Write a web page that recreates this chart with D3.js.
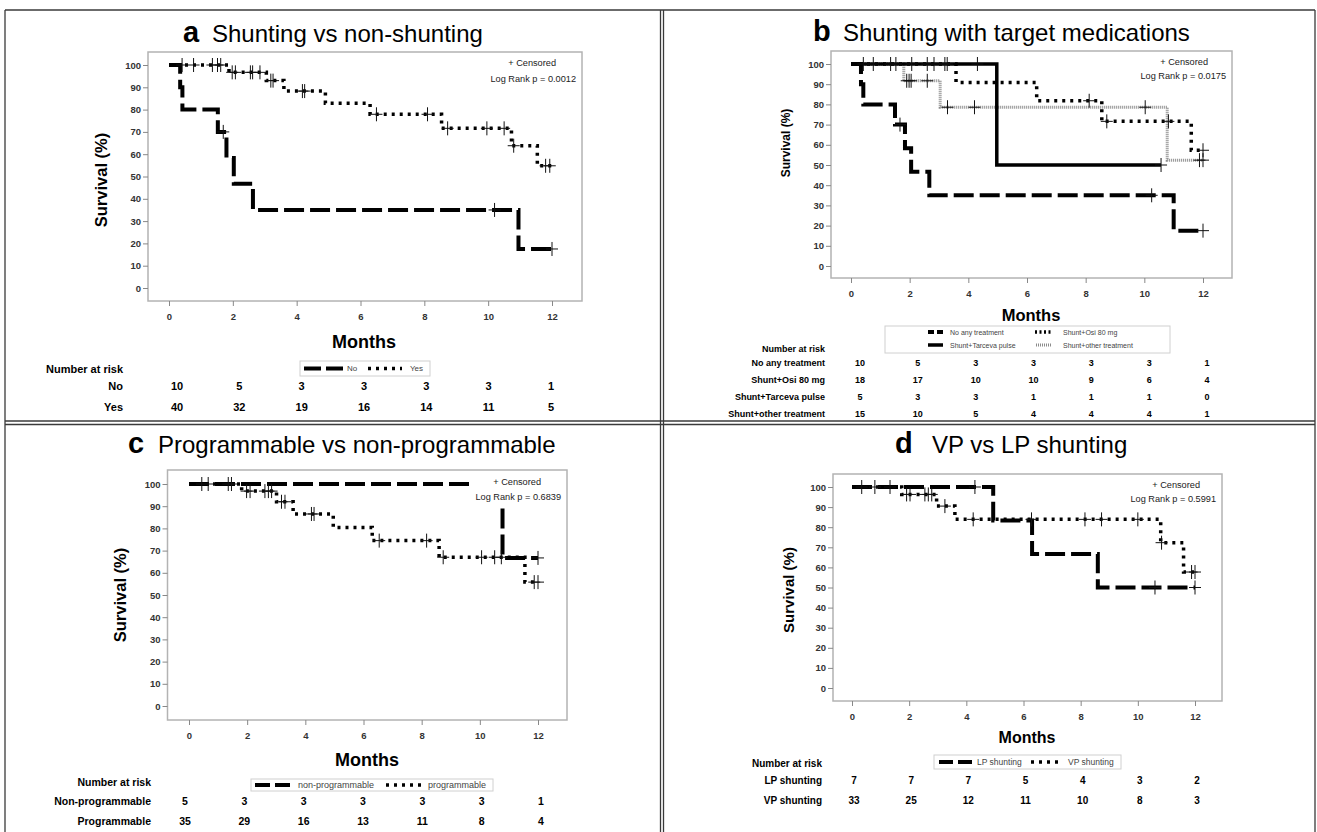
<!DOCTYPE html>
<html>
<head>
<meta charset="utf-8">
<script src="https://cdn.jsdelivr.net/npm/d3@7"></script>
<style>
  body { margin: 0; background: #fff; }
  text { font-family: 'Liberation Sans', Arial, sans-serif; }
</style>
</head>
<body>
<svg id="fig" width="1317" height="832"></svg>
<script>
// shared ticks
var monthTicks = [0, 2, 4, 6, 8, 10, 12];
var survivalTicks = [0, 10, 20, 30, 40, 50, 60, 70, 80, 90, 100];

// a: shunting vs non-shunting  (steps = [month, survival after step])
var aNoSteps = [[0,100],[0.35,90],[0.42,80],[1.53,70],[1.8,58.3],[2.03,46.7],[2.63,35],[10.95,17.5],[12,17.5]];
var aNoCensor = [1.7, 10.2, 12];
var aYesSteps = [[0,100],[1.88,96.7],[3.05,93.0],[3.6,88.3],[4.9,82.8],[6.3,77.9],[8.54,71.6],[10.73,63.8],[11.54,54.8],[12,54.8]];
var aYesCensor = [0.41,0.77,1.36,1.52,1.62,1.98,2.08,2.55,2.62,2.85,3.19,3.26,4.18,4.25,6.5,8.1,8.73,9.96,10.5,10.8,11.8,11.93];
var aRiskNo = [10, 5, 3, 3, 3, 3, 1];
var aRiskYes = [40, 32, 19, 16, 14, 11, 5];

// b: shunting with target medications
var bNoneSteps = [[0,100],[0.34,90],[0.42,80],[1.5,70],[1.84,58.3],[2.05,46.7],[2.67,35],[11.0,17.5],[12,17.5]];
var bNoneCensor = [1.67, 10.25, 12];
var bOsiSteps = [[0,100],[3.58,90.9],[6.33,81.8],[8.55,71.6],[11.6,57.3],[12,57.3]];
var bOsiCensor = [0.42,1.35,1.53,2.07,2.6,3.2,3.28,8.12,8.72,10.82,12];
var bTarcevaSteps = [[0,100],[4.97,50],[10.57,50]];
var bTarcevaCensor = [0.76, 2.83, 4.31, 10.57];
var bOtherSteps = [[0,100],[1.8,91.7],[3.04,78.6],[10.78,52.4],[12,52.4]];
var bOtherCensor = [1.9,1.98,2.05,2.6,3.29,4.21,10.03,11.88,12];
var bRiskNone = [10, 5, 3, 3, 3, 3, 1];
var bRiskOsi = [18, 17, 10, 10, 9, 6, 4];
var bRiskTarceva = [5, 3, 3, 1, 1, 1, 0];
var bRiskOther = [15, 10, 5, 4, 4, 4, 1];

// c: programmable vs non-programmable
var cNonSteps = [[0,100],[10.78,66.7],[12,66.7]];
var cNonCensor = [0.44, 1.35, 12];
var cProgSteps = [[0,100],[1.81,96.8],[3.01,92.0],[3.58,86.5],[4.96,80.4],[6.3,74.5],[8.6,67.0],[11.55,55.8],[12,55.8]];
var cProgCensor = [0.66,1.46,1.98,2.1,2.61,2.73,2.84,3.18,3.3,4.21,4.3,6.54,8.17,8.74,10.06,10.51,10.74,11.87,12];
var cRiskNon = [5, 3, 3, 3, 3, 3, 1];
var cRiskProg = [35, 29, 16, 13, 11, 8, 4];

// d: VP vs LP shunting
var dLPSteps = [[0,100],[4.94,83.3],[6.3,66.7],[8.6,50],[12,50]];
var dLPCensor = [4.3, 10.6, 12];
var dVPSteps = [[0,100],[1.74,96.3],[2.96,90.5],[3.6,83.9],[10.8,72.3],[11.6,57.7],[12,57.7]];
var dVPCensor = [0.34,0.8,1.33,1.91,2.03,2.55,2.67,2.79,3.25,4.24,6.28,8.15,8.73,10.0,10.83,11.88,12];
var dRiskLP = [7, 7, 7, 5, 4, 3, 2];
var dRiskVP = [33, 25, 12, 11, 10, 8, 3];

// line looks
var styles = {
  dash:  { stroke: '#000', width: 4, dash: '20,6' },
  dot:   { stroke: '#000', width: 3.5, dash: '3,5' },
  solid: { stroke: '#000', width: 3.5, dash: null },
  gray:  { stroke: '#8c8c8c', width: 3, dash: '1,1' }
};

var panels = [
  { letter: 'a', title: 'Shunting vs non-shunting', letterX: 183, titleX: 212, titleY: 42,
    frame: [148, 52, 582, 301], x0: 169, x12: 552, y100: 65, y0: 288,
    ylab: [101, 180, 16.5], months: [364, 348, 18],
    cens: [556, 66, 576, 82], p: '0.0012',
    series: [
      { steps: aYesSteps, censor: aYesCensor, style: 'dot' },
      { steps: aNoSteps, censor: aNoCensor, style: 'dash' }
    ],
    legend: { box: [300, 361, 430, 376], size: 8, items: [
      { style: 'dash', x0: 304, x1: 343, tx: 347, y: 368.5, label: 'No', dash: '17,5' },
      { style: 'dot', x0: 368, x1: 402, tx: 410, y: 368.5, label: 'Yes' }
    ]},
    risk: { right: 123, headY: 369, size: 11, xFirst: 177, xLast: 551,
      rows: [ { label: 'No', y: 386, values: aRiskNo }, { label: 'Yes', y: 407, values: aRiskYes } ] }
  },
  { letter: 'b', title: 'Shunting with target medications', letterX: 813, titleX: 843, titleY: 41,
    frame: [831, 51, 1232, 278], x0: 851, x12: 1203, y100: 64, y0: 266,
    ylab: [786, 143, 12], months: [1031, 321, 16.5],
    cens: [1208, 65, 1226, 79], p: '0.0175',
    series: [
      { steps: bOtherSteps, censor: bOtherCensor, style: 'gray' },
      { steps: bOsiSteps, censor: bOsiCensor, style: 'dot' },
      { steps: bNoneSteps, censor: bNoneCensor, style: 'dash' },
      { steps: bTarcevaSteps, censor: bTarcevaCensor, style: 'solid' }
    ],
    legend: { box: [885, 326, 1170, 353], size: 7, items: [
      { style: 'dash', x0: 928, x1: 943, tx: 950, y: 332, label: 'No any treatment', dash: '6,3' },
      { style: 'dot', x0: 1035, x1: 1052, tx: 1063, y: 332, label: 'Shunt+Osi 80 mg', dash: '2,2.5' },
      { style: 'solid', x0: 928, x1: 943, tx: 950, y: 345, label: 'Shunt+Tarceva pulse' },
      { style: 'gray', x0: 1036, x1: 1052, tx: 1063, y: 345, label: 'Shunt+other treatment' }
    ]},
    risk: { right: 825, headY: 349, size: 9, xFirst: 860, xLast: 1207,
      rows: [
        { label: 'No any treatment', y: 363, values: bRiskNone },
        { label: 'Shunt+Osi 80 mg', y: 380, values: bRiskOsi },
        { label: 'Shunt+Tarceva pulse', y: 397, values: bRiskTarceva },
        { label: 'Shunt+other treatment', y: 414, values: bRiskOther }
      ] }
  },
  { letter: 'c', title: 'Programmable vs non-programmable', letterX: 128, titleX: 158, titleY: 453,
    frame: [167.5, 470, 567, 720], x0: 189, x12: 538, y100: 484, y0: 706,
    ylab: [120, 595, 16.5], months: [367, 766, 18],
    cens: [541, 485, 561, 500], p: '0.6839',
    series: [
      { steps: cProgSteps, censor: cProgCensor, style: 'dot' },
      { steps: cNonSteps, censor: cNonCensor, style: 'dash' }
    ],
    legend: { box: [251, 779, 493, 791], size: 9, items: [
      { style: 'dash', x0: 255, x1: 290, tx: 298, y: 785, label: 'non-programmable', dash: '15,5' },
      { style: 'dot', x0: 386, x1: 421, tx: 428, y: 785, label: 'programmable' }
    ]},
    risk: { right: 151, headY: 782, size: 10.5, xFirst: 185, xLast: 541,
      rows: [ { label: 'Non-programmable', y: 801, values: cRiskNon }, { label: 'Programmable', y: 821, values: cRiskProg } ] }
  },
  { letter: 'd', title: 'VP vs LP shunting', letterX: 895, titleX: 932, titleY: 453,
    frame: [833, 474, 1222, 701], x0: 852, x12: 1195, y100: 487, y0: 688,
    ylab: [788, 590, 15], months: [1027, 743, 16],
    cens: [1200, 488, 1216, 502], p: '0.5991',
    series: [
      { steps: dVPSteps, censor: dVPCensor, style: 'dot' },
      { steps: dLPSteps, censor: dLPCensor, style: 'dash' }
    ],
    legend: { box: [934, 755, 1121, 769], size: 8.5, items: [
      { style: 'dash', x0: 939, x1: 972, tx: 977, y: 762, label: 'LP shunting', dash: '14,5' },
      { style: 'dot', x0: 1031, x1: 1063, tx: 1068, y: 762, label: 'VP shunting' }
    ]},
    risk: { right: 822, headY: 763, size: 10, xFirst: 854, xLast: 1197,
      rows: [ { label: 'LP shunting', y: 780, values: dRiskLP }, { label: 'VP shunting', y: 800, values: dRiskVP } ] }
  }
];

var svg = d3.select('#fig');

// outer frame and dividers
var rules = [
  [5, 10, 1315, 10], [5, 10, 5, 832], [1315, 10, 1315, 832],
  [660.5, 10, 660.5, 832], [663.5, 10, 663.5, 832],
  [5, 421, 1315, 421], [5, 424.5, 1315, 424.5]
];
svg.selectAll('line.rule').data(rules).enter().append('line')
  .attr('class', 'rule')
  .attr('x1', d => d[0]).attr('y1', d => d[1]).attr('x2', d => d[2]).attr('y2', d => d[3])
  .attr('stroke', '#3a3a3a').attr('stroke-width', 1.3);

function survAt(steps, t) {
  var v = steps[0][1];
  steps.forEach(function(s) { if (s[0] <= t) v = s[1]; });
  return v;
}

panels.forEach(function(p) {
  var g = svg.append('g');
  var x = d3.scaleLinear().domain([0, 12]).range([p.x0, p.x12]);
  var y = d3.scaleLinear().domain([0, 100]).range([p.y0, p.y100]);

  // title
  g.append('text').attr('x', p.letterX).attr('y', p.titleY)
    .attr('font-size', 29).attr('font-weight', 'bold').text(p.letter);
  g.append('text').attr('x', p.titleX).attr('y', p.titleY)
    .attr('font-size', 24).text(p.title);

  // plot frame
  var f = p.frame;
  g.append('rect').attr('x', f[0]).attr('y', f[1])
    .attr('width', f[2] - f[0]).attr('height', f[3] - f[1])
    .attr('fill', 'none').attr('stroke', '#b3b3b3').attr('stroke-width', 1.5);

  // axes
  var yAxis = g.append('g').attr('transform', 'translate(' + f[0] + ',0)')
    .call(d3.axisLeft(y).tickValues(survivalTicks).tickSize(5).tickPadding(2));
  var xAxis = g.append('g').attr('transform', 'translate(0,' + f[3] + ')')
    .call(d3.axisBottom(x).tickValues(monthTicks).tickSize(5).tickPadding(7));
  [yAxis, xAxis].forEach(function(ax) {
    ax.select('.domain').remove();
    ax.selectAll('line').attr('stroke', '#888');
    ax.selectAll('text').attr('font-size', 9.5).attr('font-weight', 'bold')
      .attr('fill', '#333').attr('font-family', "'Liberation Sans Narrow','DejaVu Sans Condensed',sans-serif");
  });

  // axis titles
  g.append('text')
    .attr('transform', 'translate(' + p.ylab[0] + ',' + p.ylab[1] + ') rotate(-90)')
    .attr('text-anchor', 'middle').attr('dominant-baseline', 'central')
    .attr('font-size', p.ylab[2]).attr('font-weight', 'bold').text('Survival (%)');
  g.append('text').attr('x', p.months[0]).attr('y', p.months[1])
    .attr('text-anchor', 'middle').attr('font-size', p.months[2]).attr('font-weight', 'bold')
    .text('Months');

  // KM curves
  var line = d3.line().x(d => x(d[0])).y(d => y(d[1])).curve(d3.curveStepAfter);
  p.series.forEach(function(s) {
    var st = styles[s.style];
    g.append('path').datum(s.steps).attr('d', line)
      .attr('fill', 'none').attr('stroke', st.stroke).attr('stroke-width', st.width)
      .attr('stroke-dasharray', st.dash);
  });
  // censor marks
  p.series.forEach(function(s) {
    g.selectAll(null).data(s.censor).enter().append('path')
      .attr('d', function(t) {
        var cx = x(t), cy = y(survAt(s.steps, t));
        return 'M' + (cx - 6) + ',' + cy + 'H' + (cx + 6) + 'M' + cx + ',' + (cy - 7) + 'V' + (cy + 7);
      })
      .attr('stroke', '#111').attr('stroke-width', 1).attr('fill', 'none');
  });

  // censor note and p value, on an opaque inset box
  var inset = g.append('g');
  var bg = inset.append('rect').attr('fill', '#fff');
  inset.append('text').attr('x', p.cens[0]).attr('y', p.cens[1]).attr('text-anchor', 'end')
    .attr('font-size', 9.2).attr('fill', '#222').text('+ Censored');
  inset.append('text').attr('x', p.cens[2]).attr('y', p.cens[3]).attr('text-anchor', 'end')
    .attr('font-size', 9.2).attr('fill', '#222').text('Log Rank p = ' + p.p);
  var bb = inset.node().getBBox();
  bg.attr('x', bb.x - 3).attr('y', bb.y - 3).attr('width', bb.width + 6).attr('height', bb.height + 6);

  // legend
  var lg = p.legend;
  g.append('rect').attr('x', lg.box[0]).attr('y', lg.box[1])
    .attr('width', lg.box[2] - lg.box[0]).attr('height', lg.box[3] - lg.box[1])
    .attr('fill', '#fff').attr('stroke', '#d0d0d0').attr('stroke-width', 1);
  lg.items.forEach(function(it) {
    var st = styles[it.style];
    g.append('line').attr('x1', it.x0).attr('x2', it.x1).attr('y1', it.y).attr('y2', it.y)
      .attr('stroke', st.stroke).attr('stroke-width', st.width)
      .attr('stroke-dasharray', it.dash || st.dash);
    g.append('text').attr('x', it.tx).attr('y', it.y).attr('dominant-baseline', 'central')
      .attr('font-size', lg.size).attr('fill', '#444').text(it.label);
  });

  // number at risk table
  var r = p.risk;
  var rx = d3.scaleLinear().domain([0, 12]).range([r.xFirst, r.xLast]);
  g.append('text').attr('x', r.right).attr('y', r.headY).attr('text-anchor', 'end')
    .attr('dominant-baseline', 'central').attr('font-size', r.size).attr('font-weight', 'bold')
    .text('Number at risk');
  r.rows.forEach(function(row) {
    g.append('text').attr('x', r.right).attr('y', row.y).attr('text-anchor', 'end')
      .attr('dominant-baseline', 'central').attr('font-size', r.size).attr('font-weight', 'bold')
      .text(row.label);
    g.selectAll(null).data(row.values).enter().append('text')
      .attr('x', (v, i) => rx(monthTicks[i])).attr('y', row.y)
      .attr('text-anchor', 'middle').attr('dominant-baseline', 'central')
      .attr('font-size', r.size).attr('font-weight', 'bold')
      .text(v => v);
  });
});
</script>
</body>
</html>
